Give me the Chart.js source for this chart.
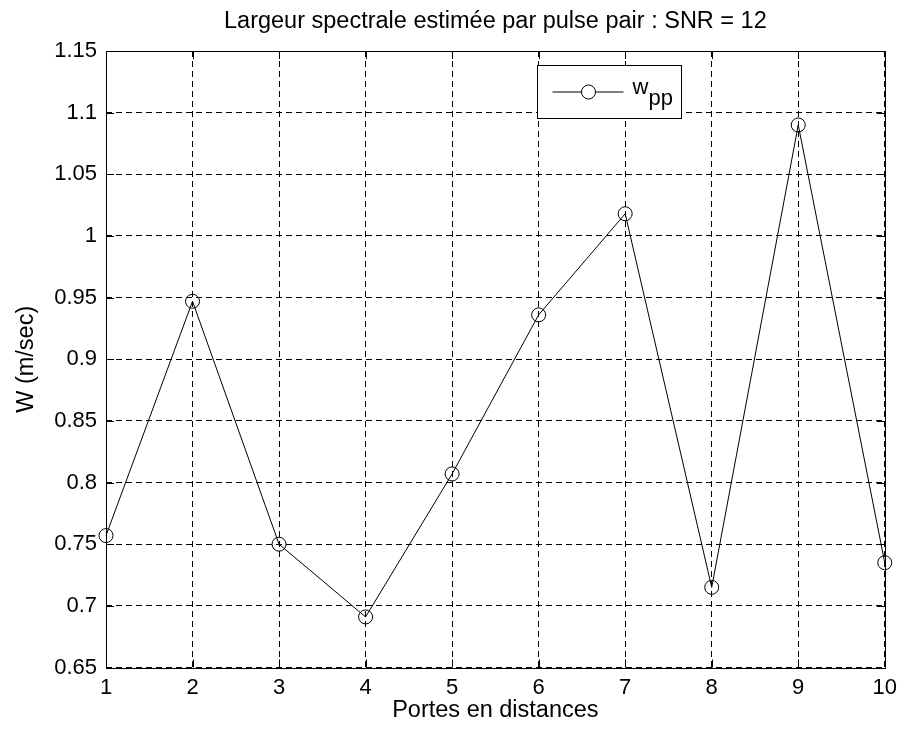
<!DOCTYPE html>
<html>
<head>
<meta charset="utf-8">
<script src="https://cdn.jsdelivr.net/npm/chart.js@4.4.1/dist/chart.umd.min.js"></script>
<style>
  html, body { margin: 0; padding: 0; background: #ffffff; }
  #wrap { width: 904px; height: 731px; }
</style>
</head>
<body>
<div id="wrap"><canvas id="chart" width="904" height="731"></canvas></div>
<script>
// Range gates (x) and pulse-pair spectral width estimates (m/s)
const gates = [1, 2, 3, 4, 5, 6, 7, 8, 9, 10];
const widthPP = [0.757, 0.947, 0.750, 0.691, 0.807, 0.936, 1.018, 0.715, 1.090, 0.735];

// Axis ticks
const xTicks = [1, 2, 3, 4, 5, 6, 7, 8, 9, 10];
const yTicks = [0.65, 0.7, 0.75, 0.8, 0.85, 0.9, 0.95, 1, 1.05, 1.1, 1.15];

const chartTitle = 'Largeur spectrale estimée par pulse pair : SNR = 12';

const FONT = 'Arial, "Liberation Sans", Helvetica, sans-serif';
const INK = '#000000';

// Title centred over the plot area (not the whole canvas)
const plotTitlePlugin = {
  id: 'plotTitle',
  afterDraw(chart) {
    const { ctx, chartArea: a } = chart;
    ctx.save();
    ctx.fillStyle = INK;
    ctx.font = '23.5px ' + FONT;
    ctx.textAlign = 'center';
    ctx.textBaseline = 'alphabetic';
    ctx.fillText(chartTitle, (a.left + a.right) / 2, 28);
    ctx.restore();
  }
};

// Solid frame around the plot plus short inward tick marks on all four sides
const framePlugin = {
  id: 'frame',
  afterDatasetsDraw(chart) {
    const { ctx, chartArea: a, scales } = chart;
    const len = 8;
    ctx.save();
    ctx.strokeStyle = INK;
    ctx.lineWidth = 1;
    ctx.setLineDash([]);
    ctx.beginPath();
    xTicks.forEach(v => {
      const px = Math.round(scales.x.getPixelForValue(v)) + 0.5;
      ctx.moveTo(px, a.bottom); ctx.lineTo(px, a.bottom - len);
      ctx.moveTo(px, a.top); ctx.lineTo(px, a.top + len);
    });
    yTicks.forEach(v => {
      const py = Math.round(scales.y.getPixelForValue(v)) + 0.5;
      ctx.moveTo(a.left, py); ctx.lineTo(a.left + len, py);
      ctx.moveTo(a.right, py); ctx.lineTo(a.right - len, py);
    });
    ctx.stroke();
    ctx.strokeRect(Math.round(a.left) + 0.5, Math.round(a.top) + 0.5,
                   Math.round(a.right - a.left), Math.round(a.bottom - a.top));
    ctx.restore();
  }
};

// Boxed legend with a subscripted label: w_pp
const legendPlugin = {
  id: 'boxLegend',
  afterDraw(chart) {
    const { ctx, chartArea: a } = chart;
    const bx = Math.round(a.left + 431) + 0.5;
    const by = Math.round(a.top + 14) + 0.5;
    const bw = 144, bh = 53;
    ctx.save();
    ctx.fillStyle = '#ffffff';
    ctx.fillRect(bx, by, bw, bh);
    ctx.strokeStyle = INK;
    ctx.lineWidth = 1;
    ctx.strokeRect(bx, by, bw, bh);
    const ly = by + 26.5;
    ctx.beginPath();
    ctx.moveTo(bx + 15, ly); ctx.lineTo(bx + 86, ly);
    ctx.stroke();
    ctx.beginPath();
    ctx.fillStyle = '#ffffff';
    ctx.arc(bx + 51, ly, 7, 0, Math.PI * 2);
    ctx.fill();
    ctx.stroke();
    ctx.fillStyle = INK;
    ctx.font = '22px ' + FONT;
    ctx.textBaseline = 'alphabetic';
    ctx.textAlign = 'left';
    ctx.fillText('w', bx + 95, by + 28);
    ctx.fillText('pp', bx + 111, by + 39.5);
    ctx.restore();
  }
};

const points = gates.map((g, i) => ({ x: g, y: widthPP[i] }));

new Chart(document.getElementById('chart'), {
  type: 'line',
  data: {
    datasets: [{
      label: 'w_pp',
      data: points,
      borderColor: INK,
      borderWidth: 1,
      tension: 0,
      fill: false,
      pointStyle: 'circle',
      pointRadius: 7,
      pointHoverRadius: 7,
      pointBorderWidth: 1,
      pointBorderColor: INK,
      pointBackgroundColor: 'rgba(0,0,0,0)',
      clip: false
    }]
  },
  options: {
    responsive: false,
    devicePixelRatio: 1,
    animation: false,
    events: [],
    layout: { padding: { left: 0, right: 15, top: 51, bottom: 0 } },
    plugins: {
      legend: { display: false },
      tooltip: { enabled: false },
      title: { display: false }
    },
    scales: {
      x: {
        type: 'linear',
        min: 1,
        max: 10,
        afterFit(scale) { scale.height = 63.5; },
        afterBuildTicks(scale) { scale.ticks = xTicks.map(v => ({ value: v })); },
        ticks: {
          color: INK,
          padding: 7,
          maxRotation: 0,
          font: { family: FONT, size: 22 },
          callback: v => String(v)
        },
        grid: { color: INK, lineWidth: 1, drawTicks: false },
        border: { display: false, dash: [6, 4] },
        title: {
          display: true,
          text: 'Portes en distances',
          color: INK,
          font: { family: FONT, size: 23.5 },
          padding: { top: 0, bottom: 6.5 }
        }
      },
      y: {
        type: 'linear',
        min: 0.65,
        max: 1.15,
        afterFit(scale) { scale.width = 106; },
        afterBuildTicks(scale) { scale.ticks = yTicks.map(v => ({ value: v })); },
        ticks: {
          color: INK,
          padding: 9,
          font: { family: FONT, size: 22 },
          callback: v => String(Number(v.toFixed(2)))
        },
        grid: { color: INK, lineWidth: 1, drawTicks: false },
        border: { display: false, dash: [6, 4] },
        title: {
          display: true,
          text: 'W (m/sec)',
          color: INK,
          font: { family: FONT, size: 23.5 },
          padding: { top: 12, bottom: 0 }
        }
      }
    }
  },
  plugins: [framePlugin, legendPlugin, plotTitlePlugin]
});
</script>
</body>
</html>
